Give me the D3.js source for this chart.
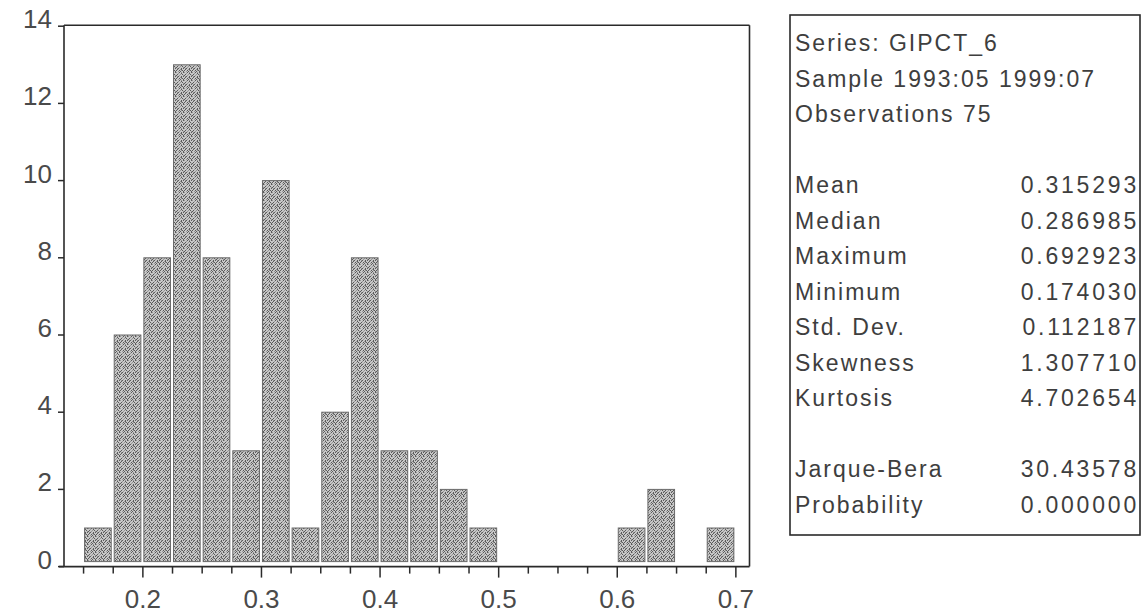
<!DOCTYPE html>
<html>
<head>
<meta charset="utf-8">
<script src="https://cdn.jsdelivr.net/npm/d3@7"></script>
<style>
  html, body { margin: 0; padding: 0; background: #ffffff; }
  svg { display: block; }
</style>
</head>
<body>
<svg id="chart" width="1145" height="614"></svg>
<script>
// ---- data ----
const binStarts = [0.150, 0.175, 0.200, 0.225, 0.250, 0.275, 0.300, 0.325, 0.350, 0.375, 0.400,
                   0.425, 0.450, 0.475, 0.500, 0.525, 0.550, 0.575, 0.600, 0.625, 0.650, 0.675];
const counts    = [1, 6, 8, 13, 8, 3, 10, 1, 4, 8, 3,
                   3, 2, 1, 0, 0, 0, 0, 1, 2, 0, 1];
const binWidth = 0.025;
const xTickLabels = [0.2, 0.3, 0.4, 0.5, 0.6, 0.7];
const xMinorTicks = [0.150, 0.175, 0.200, 0.225, 0.250, 0.275, 0.300, 0.325, 0.350, 0.375, 0.400,
                     0.425, 0.450, 0.475, 0.500, 0.525, 0.550, 0.575, 0.600, 0.625, 0.650, 0.675, 0.700];
const yTicks = [0, 2, 4, 6, 8, 10, 12, 14];
const statsHeader = ["Series: GIPCT_6", "Sample 1993:05 1999:07", "Observations 75"];
const statNames  = ["Mean", "Median", "Maximum", "Minimum", "Std. Dev.", "Skewness", "Kurtosis", "", "Jarque-Bera", "Probability"];
const statValues = ["0.315293", "0.286985", "0.692923", "0.174030", "0.112187", "1.307710", "4.702654", "", "30.43578", "0.000000"];

// ---- layout ----
const svg = d3.select("#chart");
const x = d3.scaleLinear().domain([0.1335, 0.7115]).range([64, 749.5]);
const y = d3.scaleLinear().domain([0, 14]).range([566.6, 26.2]);
const axisColor = "#2a2a2a";
const font = "'Liberation Sans', Arial, sans-serif";

// stipple (halftone-like) pattern for bars
const defs = svg.append("defs");
const pat = defs.append("pattern").attr("id", "halftone")
  .attr("patternUnits", "userSpaceOnUse").attr("width", 8).attr("height", 8);
pat.append("rect").attr("width", 8).attr("height", 8).attr("fill", "#c8c8c8");
const mask = [
  "20010201",
  "00200100",
  "01002010",
  "10020002",
  "02100101",
  "01002100",
  "10010210",
  "00201001"
];
const cells = [];
mask.forEach((row, r) => row.split("").forEach((c, k) => { if (c !== "0") cells.push([k, r, c]); }));
pat.selectAll("rect.d").data(cells).enter().append("rect").attr("class", "d")
  .attr("x", d => d[0]).attr("y", d => d[1]).attr("width", 1).attr("height", 1)
  .attr("fill", d => d[2] === "1" ? "#5a5a5a" : "#959595");

// bars
const bars = binStarts.map((s, i) => ({ s, c: counts[i] })).filter(d => d.c > 0);
svg.append("g").selectAll("rect").data(bars).enter().append("rect")
  .attr("x", d => x(d.s) + 1)
  .attr("width", d => x(d.s + binWidth) - x(d.s) - 3)
  .attr("y", d => y(d.c))
  .attr("height", d => y(0) - y(d.c) - 5)
  .attr("fill", "url(#halftone)")
  .attr("stroke", "#6a6a6a")
  .attr("stroke-width", 1);

// frame
const [x0, x1] = x.range();
const [yb, yt] = y.range();
const frame = svg.append("g").attr("stroke", axisColor).attr("stroke-width", 1.6).attr("fill", "none");
frame.append("line").attr("x1", x0).attr("x2", x0).attr("y1", yt - 1).attr("y2", yb);
frame.append("line").attr("x1", x0 - 5).attr("x2", x1).attr("y1", yb).attr("y2", yb);
frame.append("line").attr("x1", x0).attr("x2", x1).attr("y1", yt - 1).attr("y2", yt - 1);
frame.append("line").attr("x1", x1).attr("x2", x1).attr("y1", yt - 1).attr("y2", yb);

// y ticks + labels
const yAxis = svg.append("g");
yAxis.selectAll("line").data(yTicks).enter().append("line")
  .attr("x1", x0 - 6).attr("x2", x0).attr("y1", d => y(d)).attr("y2", d => y(d))
  .attr("stroke", axisColor).attr("stroke-width", 1.5);
yAxis.selectAll("text").data(yTicks).enter().append("text")
  .attr("x", x0 - 12).attr("y", d => y(d) - 7)
  .attr("text-anchor", "end").attr("dominant-baseline", "central")
  .attr("font-family", font).attr("font-size", 26).attr("fill", "#4a4a4a")
  .text(d => d);

// x ticks + labels
const xAxis = svg.append("g");
xAxis.selectAll("line").data(xMinorTicks).enter().append("line")
  .attr("x1", d => x(d)).attr("x2", d => x(d))
  .attr("y1", yb).attr("y2", d => yb + (Math.abs(d * 10 - Math.round(d * 10)) < 1e-6 ? 11 : 7))
  .attr("stroke", axisColor).attr("stroke-width", 1.5);
xAxis.selectAll("text").data(xTickLabels).enter().append("text")
  .attr("x", d => x(d)).attr("y", yb + 32)
  .attr("text-anchor", "middle").attr("dominant-baseline", "central")
  .attr("font-family", font).attr("font-size", 26).attr("fill", "#4a4a4a")
  .text(d => d3.format(".1f")(d));

// stats box
const bx0 = 790, bx1 = 1140, by0 = 15, by1 = 535;
svg.append("rect").attr("x", bx0).attr("y", by0).attr("width", bx1 - bx0).attr("height", by1 - by0)
  .attr("fill", "none").attr("stroke", axisColor).attr("stroke-width", 1.6);
const row0 = 43, rowH = 35.5;
const st = svg.append("g").attr("font-family", font).attr("font-size", 23).attr("fill", "#3e3e3e")
  .attr("letter-spacing", 2);
st.selectAll("text.h").data(statsHeader).enter().append("text").attr("class", "h")
  .attr("x", bx0 + 5).attr("y", (d, i) => row0 + i * rowH)
  .attr("dominant-baseline", "central").text(d => d);
st.selectAll("text.n").data(statNames).enter().append("text").attr("class", "n")
  .attr("x", bx0 + 5).attr("y", (d, i) => row0 + (i + 4) * rowH)
  .attr("dominant-baseline", "central").text(d => d);
st.selectAll("text.v").data(statValues).enter().append("text").attr("class", "v")
  .attr("x", bx1 - 1).attr("y", (d, i) => row0 + (i + 4) * rowH)
  .attr("text-anchor", "end").attr("dominant-baseline", "central")
  .attr("letter-spacing", 2.8).text(d => d);
</script>
</body>
</html>
